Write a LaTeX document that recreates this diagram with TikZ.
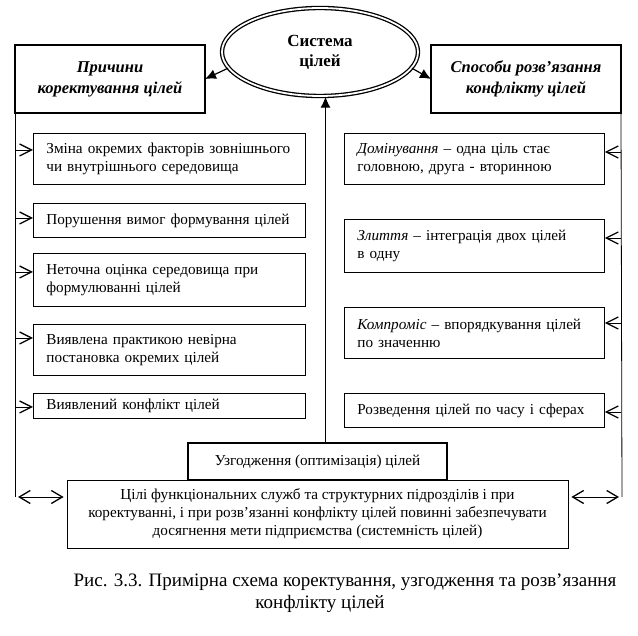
\documentclass[tikz,border=0pt]{standalone}
\usepackage{fontspec}
\setmainfont{Liberation Serif}
\usetikzlibrary{arrows.meta,shapes.geometric}

\begin{document}
\begin{tikzpicture}[x=1pt,y=-1pt,
    txt/.style={font=\fontsize{15.2}{18}\selectfont},
    item/.style={txt,draw,line width=0.8pt,anchor=north west,inner xsep=13,text width=#1,align=left},
    head/.style={draw,line width=2.2pt,outer sep=0pt,anchor=north west,minimum width=190,minimum height=68,
      align=center,font=\fontsize{16.5}{21}\selectfont\bfseries\itshape},
    barb/.style={-{Straight Barb[length=12pt,width=12pt,line width=1.3pt]},line width=0.8pt},
    dbl/.style={{Straight Barb[length=11pt,width=13pt,line width=1.3pt]}-{Straight Barb[length=11pt,width=13pt,line width=1.3pt]},line width=0.8pt},
    tip/.style={-{Latex[length=11pt,width=10pt]},line width=1.2pt}]
  \useasboundingbox (0,0) rectangle (638,636);
  \node[ellipse,draw,double,double distance=1.8pt,line width=1.3pt,minimum width=196,minimum height=88,
    align=center,font=\fontsize{17}{20}\selectfont\bfseries] (sys) at (320,52) {Система\\цілей};
  \node[head] (reasons) at (15,45) {Причини\\коректування цілей};
  \node[head] (ways) at (431,45) {Способи розв’язання\\конфлікту цілей};

  \node[item=246,minimum height=51] (r1) at (33,133) {Зміна окремих факторів зовнішнього\\чи внутрішнього середовища};
  \node[item=246,minimum height=34] (r2) at (33,203) {Порушення вимог формування цілей};
  \node[item=246,minimum height=53] (r3) at (33,253) {Неточна оцінка середовища при\\формулюванні цілей};
  \node[item=246,minimum height=51] (r4) at (33,324) {Виявлена практикою невірна\\постановка окремих цілей};
  \node[item=246,minimum height=25] (r5) at (33,393) {Виявлений конфлікт цілей};

  \node[item=234,minimum height=51] (w1) at (344,133) {\textit{Домінування} – одна ціль стає\\головною, друга - вторинною};
  \node[item=234,minimum height=53] (w2) at (344,219) {\textit{Злиття} – інтеграція двох цілей\\в одну};
  \node[item=234,minimum height=51] (w3) at (344,307) {\textit{Компроміс} – впорядкування цілей\\по значенню};
  \node[item=234,minimum height=34] (w4) at (344,393) {Розведення цілей по часу і сферах};

  \node[txt,draw,line width=0.8pt,minimum width=501,minimum height=68,align=center] (big) at (317.5,514)
    {Цілі функціональних служб та структурних підрозділів і при\\коректуванні, і при розв’язанні конфлікту цілей повинні забезпечувати\\досягнення мети підприємства (системність цілей)};
  \node[txt,draw,line width=2.2pt,minimum width=259,minimum height=37] (agree) at (317.5,461.5) {Узгодження (оптимізація) цілей};

  \coordinate (lend) at (15,497);
  \coordinate (rend) at (622,497);
  \draw[line width=0.8pt] (reasons.south west) -- (lend);
  \draw[line width=0.8pt] (ways.south east) -- (rend);
  \foreach \n/\y in {r1/150,r2/218,r3/272,r4/338,r5/407}
    \draw[barb] (reasons.south west |- 0,\y) -- (\n.west |- 0,\y);
  \foreach \n/\y in {w1/152,w2/238,w3/323,w4/412}
    \draw[barb] (ways.south east |- 0,\y) -- (\n.east |- 0,\y);
  \draw[dbl,shorten >=3pt] ([xshift=3pt]lend) -- (lend -| big.west);
  \draw[dbl,shorten >=3pt] ([xshift=-3pt]rend) -- (rend -| big.east);

  \draw[tip] (sys.190) -- (reasons.east);
  \draw[tip] (sys.-10) -- (ways.west);
  \draw[tip] ([xshift=8pt]agree.north) -- ([xshift=8pt]agree.north |- sys.south);

  \node[font=\fontsize{19}{21}\selectfont] (cap1) at (345,582) {Рис. 3.3. Примірна схема коректування, узгодження та розв’язання};
  \node[font=\fontsize{19}{21}\selectfont] (cap2) at (320,604) {конфлікту цілей};
\end{tikzpicture}
\end{document}
